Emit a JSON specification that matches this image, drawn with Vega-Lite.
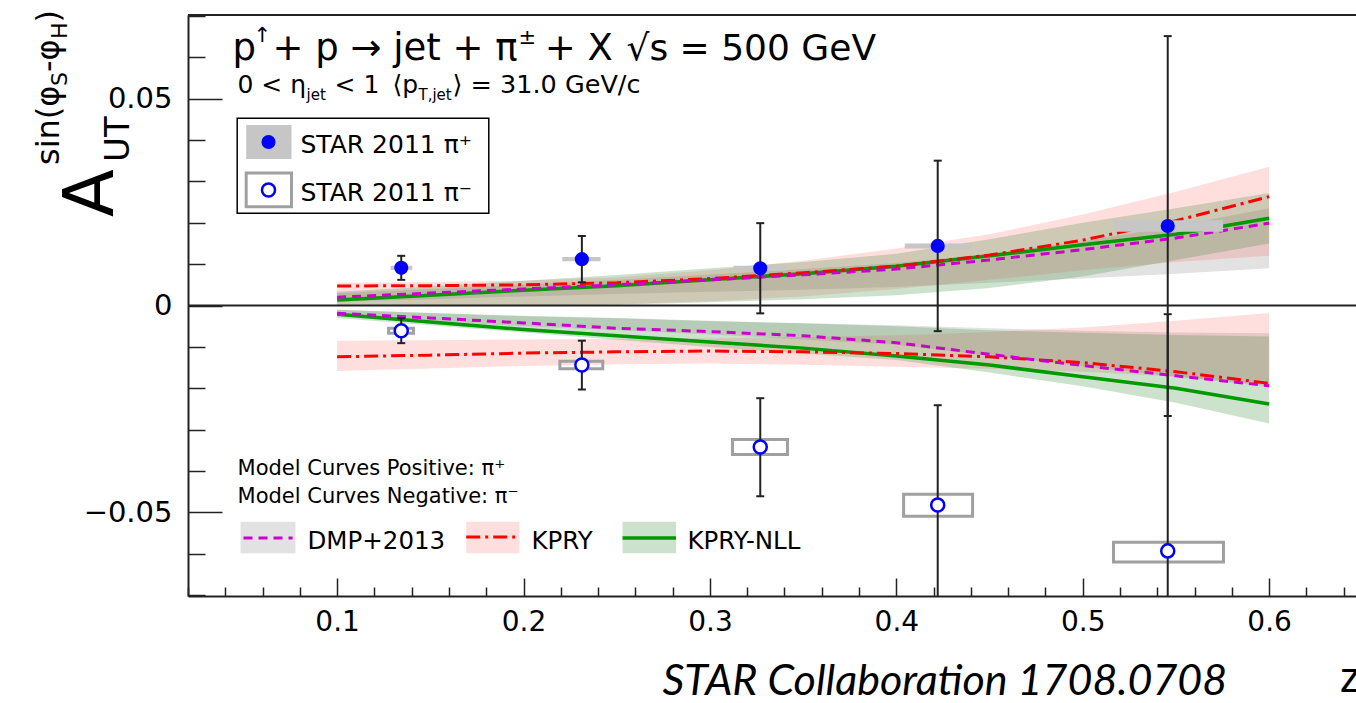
{
"$schema": "https://vega.github.io/schema/vega-lite/v6.json",
"width": 1168, "height": 581,
"autosize": {"type": "none"},
"padding": {"left": 188, "top": 15, "right": 0, "bottom": 107},
"background": "white",
"config": {"view": {"stroke": null}, "font": "DejaVu Sans"},
"data": {"values": [{}]},
"datasets": {
"curves": [
{"m":"DMP","b":"p","x":0.10,"y":0.0020,"lo":0.0009,"hi":0.0030},
{"m":"DMP","b":"p","x":0.15,"y":0.0030,"lo":0.0015,"hi":0.0040},
{"m":"DMP","b":"p","x":0.20,"y":0.0040,"lo":0.0022,"hi":0.0050},
{"m":"DMP","b":"p","x":0.25,"y":0.0050,"lo":0.0028,"hi":0.0062},
{"m":"DMP","b":"p","x":0.30,"y":0.0062,"lo":0.0033,"hi":0.0075},
{"m":"DMP","b":"p","x":0.35,"y":0.0074,"lo":0.0038,"hi":0.0088},
{"m":"DMP","b":"p","x":0.40,"y":0.0088,"lo":0.0045,"hi":0.0103},
{"m":"DMP","b":"p","x":0.45,"y":0.0110,"lo":0.0055,"hi":0.0125},
{"m":"DMP","b":"p","x":0.50,"y":0.0135,"lo":0.0065,"hi":0.0155},
{"m":"DMP","b":"p","x":0.55,"y":0.0163,"lo":0.0077,"hi":0.0192},
{"m":"DMP","b":"p","x":0.60,"y":0.0199,"lo":0.0090,"hi":0.0235},
{"m":"DMP","b":"n","x":0.10,"y":-0.0019,"lo":-0.0023,"hi":-0.0010},
{"m":"DMP","b":"n","x":0.15,"y":-0.0030,"lo":-0.0037,"hi":-0.0018},
{"m":"DMP","b":"n","x":0.20,"y":-0.0042,"lo":-0.0050,"hi":-0.0026},
{"m":"DMP","b":"n","x":0.25,"y":-0.0055,"lo":-0.0059,"hi":-0.0031},
{"m":"DMP","b":"n","x":0.30,"y":-0.0063,"lo":-0.0070,"hi":-0.0038},
{"m":"DMP","b":"n","x":0.35,"y":-0.0073,"lo":-0.0082,"hi":-0.0043},
{"m":"DMP","b":"n","x":0.40,"y":-0.0090,"lo":-0.0095,"hi":-0.0048},
{"m":"DMP","b":"n","x":0.45,"y":-0.0118,"lo":-0.0120,"hi":-0.0055},
{"m":"DMP","b":"n","x":0.50,"y":-0.0145,"lo":-0.0147,"hi":-0.0061},
{"m":"DMP","b":"n","x":0.55,"y":-0.0170,"lo":-0.0172,"hi":-0.0065},
{"m":"DMP","b":"n","x":0.60,"y":-0.0194,"lo":-0.0196,"hi":-0.0067},
{"m":"KPRY","b":"p","x":0.10,"y":0.0047,"lo":0.0000,"hi":0.0055},
{"m":"KPRY","b":"p","x":0.15,"y":0.0048,"lo":0.0000,"hi":0.0057},
{"m":"KPRY","b":"p","x":0.20,"y":0.0050,"lo":0.0000,"hi":0.0060},
{"m":"KPRY","b":"p","x":0.25,"y":0.0055,"lo":0.0003,"hi":0.0068},
{"m":"KPRY","b":"p","x":0.30,"y":0.0065,"lo":0.0010,"hi":0.0085},
{"m":"KPRY","b":"p","x":0.35,"y":0.0079,"lo":0.0022,"hi":0.0108},
{"m":"KPRY","b":"p","x":0.40,"y":0.0095,"lo":0.0040,"hi":0.0138},
{"m":"KPRY","b":"p","x":0.45,"y":0.0122,"lo":0.0062,"hi":0.0172},
{"m":"KPRY","b":"p","x":0.50,"y":0.0158,"lo":0.0085,"hi":0.0220},
{"m":"KPRY","b":"p","x":0.55,"y":0.0205,"lo":0.0105,"hi":0.0275},
{"m":"KPRY","b":"p","x":0.60,"y":0.0263,"lo":0.0120,"hi":0.0335},
{"m":"KPRY","b":"n","x":0.10,"y":-0.0124,"lo":-0.0158,"hi":-0.0085},
{"m":"KPRY","b":"n","x":0.15,"y":-0.0120,"lo":-0.0152,"hi":-0.0084},
{"m":"KPRY","b":"n","x":0.20,"y":-0.0115,"lo":-0.0146,"hi":-0.0082},
{"m":"KPRY","b":"n","x":0.25,"y":-0.0112,"lo":-0.0142,"hi":-0.0081},
{"m":"KPRY","b":"n","x":0.30,"y":-0.0110,"lo":-0.0140,"hi":-0.0079},
{"m":"KPRY","b":"n","x":0.35,"y":-0.0112,"lo":-0.0143,"hi":-0.0076},
{"m":"KPRY","b":"n","x":0.40,"y":-0.0116,"lo":-0.0148,"hi":-0.0072},
{"m":"KPRY","b":"n","x":0.45,"y":-0.0124,"lo":-0.0153,"hi":-0.0064},
{"m":"KPRY","b":"n","x":0.50,"y":-0.0138,"lo":-0.0160,"hi":-0.0053},
{"m":"KPRY","b":"n","x":0.55,"y":-0.0160,"lo":-0.0172,"hi":-0.0037},
{"m":"KPRY","b":"n","x":0.60,"y":-0.0188,"lo":-0.0192,"hi":-0.0018},
{"m":"NLL","b":"p","x":0.10,"y":0.0013,"lo":0.0000,"hi":0.0033},
{"m":"NLL","b":"p","x":0.15,"y":0.0025,"lo":0.0000,"hi":0.0046},
{"m":"NLL","b":"p","x":0.20,"y":0.0037,"lo":0.0000,"hi":0.0060},
{"m":"NLL","b":"p","x":0.25,"y":0.0048,"lo":0.0002,"hi":0.0074},
{"m":"NLL","b":"p","x":0.30,"y":0.0062,"lo":0.0008,"hi":0.0090},
{"m":"NLL","b":"p","x":0.35,"y":0.0077,"lo":0.0015,"hi":0.0105},
{"m":"NLL","b":"p","x":0.40,"y":0.0095,"lo":0.0025,"hi":0.0125},
{"m":"NLL","b":"p","x":0.45,"y":0.0120,"lo":0.0042,"hi":0.0160},
{"m":"NLL","b":"p","x":0.50,"y":0.0147,"lo":0.0070,"hi":0.0200},
{"m":"NLL","b":"p","x":0.55,"y":0.0172,"lo":0.0110,"hi":0.0235},
{"m":"NLL","b":"p","x":0.60,"y":0.0211,"lo":0.0150,"hi":0.0272},
{"m":"NLL","b":"n","x":0.10,"y":-0.0021,"lo":-0.0030,"hi":-0.0010},
{"m":"NLL","b":"n","x":0.15,"y":-0.0040,"lo":-0.0048,"hi":-0.0018},
{"m":"NLL","b":"n","x":0.20,"y":-0.0058,"lo":-0.0065,"hi":-0.0025},
{"m":"NLL","b":"n","x":0.25,"y":-0.0073,"lo":-0.0083,"hi":-0.0030},
{"m":"NLL","b":"n","x":0.30,"y":-0.0088,"lo":-0.0100,"hi":-0.0037},
{"m":"NLL","b":"n","x":0.35,"y":-0.0103,"lo":-0.0116,"hi":-0.0043},
{"m":"NLL","b":"n","x":0.40,"y":-0.0122,"lo":-0.0132,"hi":-0.0050},
{"m":"NLL","b":"n","x":0.45,"y":-0.0144,"lo":-0.0162,"hi":-0.0060},
{"m":"NLL","b":"n","x":0.50,"y":-0.0172,"lo":-0.0195,"hi":-0.0066},
{"m":"NLL","b":"n","x":0.55,"y":-0.0200,"lo":-0.0235,"hi":-0.0071},
{"m":"NLL","b":"n","x":0.60,"y":-0.0238,"lo":-0.0285,"hi":-0.0075}
],
"pts": [
{"c":"p","x":0.1344,"y":0.0091,"lo":0.0062,"hi":0.0120,"xl":0.1287,"xh":0.1403,"sl":0.0086,"sh":0.0096},
{"c":"p","x":0.2313,"y":0.0112,"lo":0.0056,"hi":0.0168,"xl":0.2208,"xh":0.2413,"sl":0.0107,"sh":0.0117},
{"c":"p","x":0.3270,"y":0.0090,"lo":-0.0019,"hi":0.0199,"xl":0.3127,"xh":0.3407,"sl":0.0084,"sh":0.0096},
{"c":"p","x":0.4222,"y":0.0144,"lo":-0.0062,"hi":0.0350,"xl":0.4045,"xh":0.4405,"sl":0.0138,"sh":0.0150},
{"c":"p","x":0.5456,"y":0.0192,"lo":-0.0267,"hi":0.0651,"xl":0.5171,"xh":0.5753,"sl":0.0178,"sh":0.0206},
{"c":"m","x":0.1344,"y":-0.0061,"lo":-0.0091,"hi":-0.0031,"xl":0.1276,"xh":0.1410,"sl":-0.0067,"sh":-0.0055},
{"c":"m","x":0.2313,"y":-0.0144,"lo":-0.0203,"hi":-0.0085,"xl":0.2195,"xh":0.2425,"sl":-0.0153,"sh":-0.0135},
{"c":"m","x":0.3270,"y":-0.0342,"lo":-0.0461,"hi":-0.0224,"xl":0.3121,"xh":0.3416,"sl":-0.0360,"sh":-0.0324},
{"c":"m","x":0.4222,"y":-0.0482,"lo":-0.0724,"hi":-0.0241,"xl":0.4039,"xh":0.4409,"sl":-0.0509,"sh":-0.0456},
{"c":"m","x":0.5456,"y":-0.0593,"lo":-0.1165,"hi":-0.0021,"xl":0.5165,"xh":0.5755,"sl":-0.0620,"sh":-0.0572}
]
},
"resolve": {"axis": {"x": "independent", "y": "independent"}},
"layer": [
{"layer": [
{"data": {"name": "curves"}, "transform": [{"filter": "datum.m == 'DMP'"}],
 "mark": {"type": "area", "fill": "#e2e2e2"},
 "encoding": {
  "x": {"field": "x", "type": "quantitative", "scale": {"domain": [0.02, 0.6466], "nice": false, "zero": false},
   "axis": {"title": null, "orient": "bottom", "grid": false, "values": [0.1,0.2,0.3,0.4,0.5,0.6], "format": ".1f",
    "domainColor": "#222", "domainWidth": 2, "tickColor": "#222", "tickWidth": 1.5, "tickSize": -18,
    "labelFont": "DejaVu Sans", "labelFontSize": 28, "labelColor": "#000", "labelPadding": 30, "labelFlush": false, "labelOverlap": false}},
  "y": {"field": "lo", "type": "quantitative", "scale": {"domain": [-0.0702, 0.0702], "nice": false, "zero": false},
   "axis": {"title": null, "orient": "left", "grid": false, "values": [-0.05, 0, 0.05],
    "domainColor": "#222", "domainWidth": 2, "tickColor": "#222", "tickWidth": 1.5, "tickSize": -34,
    "labelExpr": "abs(datum.value)<1e-9 ? '0' : replace(format(datum.value,'.2f'),'-','\u2212')",
    "labelFont": "DejaVu Sans", "labelFontSize": 29, "labelColor": "#000", "labelPadding": 50, "labelFlush": false, "labelOverlap": false}},
  "y2": {"field": "hi"},
  "detail": {"field": "b"}
 }},
{"data": {"name": "curves"}, "transform": [{"filter": "datum.m == 'KPRY'"}],
 "mark": {"type": "area", "fill": "#ff5a5a", "opacity": 0.2},
 "encoding": {"x": {"field": "x", "type": "quantitative"}, "y": {"field": "lo", "type": "quantitative"}, "y2": {"field": "hi"}, "detail": {"field": "b"}}},
{"data": {"name": "curves"}, "transform": [{"filter": "datum.m == 'NLL'"}],
 "mark": {"type": "area", "fill": "#3f8f3f", "opacity": 0.26},
 "encoding": {"x": {"field": "x", "type": "quantitative"}, "y": {"field": "lo", "type": "quantitative"}, "y2": {"field": "hi"}, "detail": {"field": "b"}}},
{"mark": {"type": "rule", "stroke": "#222", "strokeWidth": 2},
 "encoding": {"x": {"datum": 0.02, "type": "quantitative"}, "x2": {"datum": 0.6466}, "y": {"datum": 0, "type": "quantitative"}}},
{"mark": {"type": "rule", "stroke": "#222", "strokeWidth": 2},
 "encoding": {"x": {"datum": 0.02, "type": "quantitative"}, "x2": {"datum": 0.6466}, "y": {"datum": 0.0702, "type": "quantitative"}}},
{"data": {"name": "curves"}, "transform": [{"filter": "datum.m == 'NLL'"}],
 "mark": {"type": "line", "stroke": "#009a00", "strokeWidth": 3.5},
 "encoding": {"x": {"field": "x", "type": "quantitative"}, "y": {"field": "y", "type": "quantitative"}, "detail": {"field": "b"}}},
{"data": {"name": "curves"}, "transform": [{"filter": "datum.m == 'KPRY'"}],
 "mark": {"type": "line", "stroke": "#ff0000", "strokeWidth": 3, "strokeDash": [14, 5, 3, 5]},
 "encoding": {"x": {"field": "x", "type": "quantitative"}, "y": {"field": "y", "type": "quantitative"}, "detail": {"field": "b"}}},
{"data": {"name": "curves"}, "transform": [{"filter": "datum.m == 'DMP'"}],
 "mark": {"type": "line", "stroke": "#cc00cc", "strokeWidth": 3, "strokeDash": [9, 6]},
 "encoding": {"x": {"field": "x", "type": "quantitative"}, "y": {"field": "y", "type": "quantitative"}, "detail": {"field": "b"}}},
{"data": {"name": "pts"}, "transform": [{"filter": "datum.c == 'p'"}],
 "mark": {"type": "rect", "fill": "#c6c6c6"},
 "encoding": {"x": {"field": "xl", "type": "quantitative"}, "x2": {"field": "xh"}, "y": {"field": "sl", "type": "quantitative"}, "y2": {"field": "sh"}}},
{"data": {"name": "pts"}, "transform": [{"filter": "datum.c == 'm'"}],
 "mark": {"type": "rect", "filled": false, "stroke": "#a0a0a0", "strokeWidth": 3},
 "encoding": {"x": {"field": "xl", "type": "quantitative"}, "x2": {"field": "xh"}, "y": {"field": "sl", "type": "quantitative"}, "y2": {"field": "sh"}}},
{"data": {"name": "pts"},
 "mark": {"type": "rule", "stroke": "#222", "strokeWidth": 2, "clip": true},
 "encoding": {"x": {"field": "x", "type": "quantitative"}, "y": {"field": "lo", "type": "quantitative"}, "y2": {"field": "hi"}}},
{"data": {"name": "pts"},
 "mark": {"type": "point", "shape": "M-1,0L1,0", "size": 64, "filled": false, "stroke": "#222", "strokeWidth": 2, "opacity": 1, "clip": true},
 "encoding": {"x": {"field": "x", "type": "quantitative"}, "y": {"field": "lo", "type": "quantitative"}}},
{"data": {"name": "pts"},
 "mark": {"type": "point", "shape": "M-1,0L1,0", "size": 64, "filled": false, "stroke": "#222", "strokeWidth": 2, "opacity": 1, "clip": true},
 "encoding": {"x": {"field": "x", "type": "quantitative"}, "y": {"field": "hi", "type": "quantitative"}}},
{"data": {"name": "pts"}, "transform": [{"filter": "datum.c == 'p'"}],
 "mark": {"type": "point", "shape": "circle", "size": 200, "filled": true, "fill": "#0000ff", "opacity": 1, "strokeWidth": 0},
 "encoding": {"x": {"field": "x", "type": "quantitative"}, "y": {"field": "y", "type": "quantitative"}}},
{"data": {"name": "pts"}, "transform": [{"filter": "datum.c == 'm'"}],
 "mark": {"type": "point", "shape": "circle", "size": 170, "filled": true, "fill": "#ffffff", "stroke": "#0000ff", "strokeWidth": 2.5, "opacity": 1},
 "encoding": {"x": {"field": "x", "type": "quantitative"}, "y": {"field": "y", "type": "quantitative"}}},

{"mark": {"type": "rect", "fill": "#ffffff", "stroke": "#000", "strokeWidth": 1.5},
 "encoding": {"x": {"datum": 0.04639, "type": "quantitative"}, "x2": {"datum": 0.18137}, "y": {"datum": 0.02228, "type": "quantitative"}, "y2": {"datum": 0.04524}}},
{"mark": {"type": "rect", "fill": "#c6c6c6"},
 "encoding": {"x": {"datum": 0.05122, "type": "quantitative"}, "x2": {"datum": 0.07553}, "y": {"datum": 0.0354, "type": "quantitative"}, "y2": {"datum": 0.04362}}},
{"mark": {"type": "point", "shape": "circle", "size": 200, "filled": true, "fill": "#0000ff", "opacity": 1, "strokeWidth": 0},
 "encoding": {"x": {"datum": 0.06319, "type": "quantitative"}, "y": {"datum": 0.03951, "type": "quantitative"}}},
{"mark": {"type": "text", "text": "STAR 2011 π⁺", "font": "DejaVu Sans", "fontSize": 25, "align": "left", "baseline": "alphabetic", "color": "#000"},
 "encoding": {"x": {"datum": 0.08035, "type": "quantitative"}, "y": {"datum": 0.03685, "type": "quantitative"}}},
{"mark": {"type": "rect", "filled": false, "stroke": "#a0a0a0", "strokeWidth": 3},
 "encoding": {"x": {"datum": 0.05122, "type": "quantitative"}, "x2": {"datum": 0.07553}, "y": {"datum": 0.02388, "type": "quantitative"}, "y2": {"datum": 0.03202}}},
{"mark": {"type": "point", "shape": "circle", "size": 170, "filled": true, "fill": "#ffffff", "stroke": "#0000ff", "strokeWidth": 2.5, "opacity": 1},
 "encoding": {"x": {"datum": 0.06319, "type": "quantitative"}, "y": {"datum": 0.02791, "type": "quantitative"}}},
{"mark": {"type": "text", "text": "STAR 2011 π⁻", "font": "DejaVu Sans", "fontSize": 25, "align": "left", "baseline": "alphabetic", "color": "#000"},
 "encoding": {"x": {"datum": 0.08035, "type": "quantitative"}, "y": {"datum": 0.02525, "type": "quantitative"}}},

{"mark": {"type": "text", "text": "Model Curves Positive: π⁺", "font": "DejaVu Sans", "fontSize": 21, "align": "left", "baseline": "alphabetic", "color": "#000"},
 "encoding": {"x": {"datum": 0.04656, "type": "quantitative"}, "y": {"datum": -0.04096, "type": "quantitative"}}},
{"mark": {"type": "text", "text": "Model Curves Negative: π⁻", "font": "DejaVu Sans", "fontSize": 21, "align": "left", "baseline": "alphabetic", "color": "#000"},
 "encoding": {"x": {"datum": 0.04656, "type": "quantitative"}, "y": {"datum": -0.04773, "type": "quantitative"}}},
{"mark": {"type": "rect", "fill": "#e2e2e2"},
 "encoding": {"x": {"datum": 0.04817, "type": "quantitative"}, "x2": {"datum": 0.07767}, "y": {"datum": -0.05988, "type": "quantitative"}, "y2": {"datum": -0.05225}}},
{"mark": {"type": "rule", "stroke": "#cc00cc", "strokeWidth": 3, "strokeDash": [9, 6]},
 "encoding": {"x": {"datum": 0.04978, "type": "quantitative"}, "x2": {"datum": 0.07608}, "y": {"datum": -0.05619, "type": "quantitative"}}},
{"mark": {"type": "text", "text": "DMP+2013", "font": "DejaVu Sans", "fontSize": 24.5, "align": "left", "baseline": "alphabetic", "color": "#000"},
 "encoding": {"x": {"datum": 0.08411, "type": "quantitative"}, "y": {"datum": -0.05885, "type": "quantitative"}}},
{"mark": {"type": "rect", "fill": "#ff5a5a", "opacity": 0.2},
 "encoding": {"x": {"datum": 0.16925, "type": "quantitative"}, "x2": {"datum": 0.19785}, "y": {"datum": -0.05988, "type": "quantitative"}, "y2": {"datum": -0.05225}}},
{"mark": {"type": "rule", "stroke": "#ff0000", "strokeWidth": 3, "strokeDash": [14, 5, 3, 5]},
 "encoding": {"x": {"datum": 0.16925, "type": "quantitative"}, "x2": {"datum": 0.19785}, "y": {"datum": -0.05595, "type": "quantitative"}}},
{"mark": {"type": "text", "text": "KPRY", "font": "DejaVu Sans", "fontSize": 24.5, "align": "left", "baseline": "alphabetic", "color": "#000"},
 "encoding": {"x": {"datum": 0.20428, "type": "quantitative"}, "y": {"datum": -0.05885, "type": "quantitative"}}},
{"mark": {"type": "rect", "fill": "#3f8f3f", "opacity": 0.26},
 "encoding": {"x": {"datum": 0.25311, "type": "quantitative"}, "x2": {"datum": 0.28181}, "y": {"datum": -0.05988, "type": "quantitative"}, "y2": {"datum": -0.05225}}},
{"mark": {"type": "rule", "stroke": "#009a00", "strokeWidth": 3.5},
 "encoding": {"x": {"datum": 0.25311, "type": "quantitative"}, "x2": {"datum": 0.28181}, "y": {"datum": -0.05619, "type": "quantitative"}}},
{"mark": {"type": "text", "text": "KPRY-NLL", "font": "DejaVu Sans", "fontSize": 24.5, "align": "left", "baseline": "alphabetic", "color": "#000"},
 "encoding": {"x": {"datum": 0.28798, "type": "quantitative"}, "y": {"datum": -0.05885, "type": "quantitative"}}},

{"mark": {"type": "text", "text": "p", "font": "DejaVu Sans", "fontSize": 37, "align": "left", "baseline": "alphabetic", "color": "#000"},
 "encoding": {"x": {"datum": 0.04387, "type": "quantitative"}, "y": {"datum": 0.05933, "type": "quantitative"}}},
{"mark": {"type": "text", "text": "↑", "font": "DejaVu Sans", "fontSize": 21, "align": "left", "baseline": "alphabetic", "color": "#000"},
 "encoding": {"x": {"datum": 0.05515, "type": "quantitative"}, "y": {"datum": 0.06368, "type": "quantitative"}}},
{"mark": {"type": "text", "text": "+ p → jet + π", "font": "DejaVu Sans", "fontSize": 37, "align": "left", "baseline": "alphabetic", "color": "#000"},
 "encoding": {"x": {"datum": 0.06534, "type": "quantitative"}, "y": {"datum": 0.05933, "type": "quantitative"}}},
{"mark": {"type": "text", "text": "±", "font": "DejaVu Sans", "fontSize": 21, "align": "left", "baseline": "alphabetic", "color": "#000"},
 "encoding": {"x": {"datum": 0.19731, "type": "quantitative"}, "y": {"datum": 0.0632, "type": "quantitative"}}},
{"mark": {"type": "text", "text": "+ X", "font": "DejaVu Sans", "fontSize": 37, "align": "left", "baseline": "alphabetic", "color": "#000"},
 "encoding": {"x": {"datum": 0.21137, "type": "quantitative"}, "y": {"datum": 0.05933, "type": "quantitative"}}},
{"mark": {"type": "text", "text": "√s = 500 GeV", "font": "DejaVu Sans", "fontSize": 36, "align": "left", "baseline": "alphabetic", "color": "#000"},
 "encoding": {"x": {"datum": 0.25522, "type": "quantitative"}, "y": {"datum": 0.05933, "type": "quantitative"}}},

{"mark": {"type": "text", "text": "0 < η", "font": "DejaVu Sans", "fontSize": 25, "align": "left", "baseline": "alphabetic", "color": "#000"},
 "encoding": {"x": {"datum": 0.04656, "type": "quantitative"}, "y": {"datum": 0.05135, "type": "quantitative"}}},
{"mark": {"type": "text", "text": "jet", "font": "DejaVu Sans", "fontSize": 15, "align": "left", "baseline": "alphabetic", "color": "#000"},
 "encoding": {"x": {"datum": 0.08357, "type": "quantitative"}, "y": {"datum": 0.04966, "type": "quantitative"}}},
{"mark": {"type": "text", "text": "< 1", "font": "DejaVu Sans", "fontSize": 25, "align": "left", "baseline": "alphabetic", "color": "#000"},
 "encoding": {"x": {"datum": 0.09859, "type": "quantitative"}, "y": {"datum": 0.05135, "type": "quantitative"}}},
{"mark": {"type": "text", "text": "⟨p", "font": "DejaVu Sans", "fontSize": 25, "align": "left", "baseline": "alphabetic", "color": "#000"},
 "encoding": {"x": {"datum": 0.12971, "type": "quantitative"}, "y": {"datum": 0.05135, "type": "quantitative"}}},
{"mark": {"type": "text", "text": "T,jet", "font": "DejaVu Sans", "fontSize": 15, "align": "left", "baseline": "alphabetic", "color": "#000"},
 "encoding": {"x": {"datum": 0.14366, "type": "quantitative"}, "y": {"datum": 0.04966, "type": "quantitative"}}},
{"mark": {"type": "text", "text": "⟩ = 31.0 GeV/c", "font": "DejaVu Sans", "fontSize": 25.5, "align": "left", "baseline": "alphabetic", "color": "#000"},
 "encoding": {"x": {"datum": 0.16191, "type": "quantitative"}, "y": {"datum": 0.05135, "type": "quantitative"}}},

{"mark": {"type": "text", "text": "A", "font": "DejaVu Sans", "fontSize": 70, "angle": 270, "align": "center", "baseline": "alphabetic", "color": "#000"},
 "encoding": {"x": {"datum": -0.0205, "type": "quantitative"}, "y": {"datum": 0.02719, "type": "quantitative"}}},
{"mark": {"type": "text", "text": "UT", "font": "DejaVu Sans", "fontSize": 34, "angle": 270, "align": "left", "baseline": "alphabetic", "color": "#000"},
 "encoding": {"x": {"datum": -0.01192, "type": "quantitative"}, "y": {"datum": 0.03468, "type": "quantitative"}}},
{"mark": {"type": "text", "text": "sin(φ", "font": "DejaVu Sans", "fontSize": 32, "angle": 270, "align": "left", "baseline": "alphabetic", "color": "#000"},
 "encoding": {"x": {"datum": -0.04947, "type": "quantitative"}, "y": {"datum": 0.03395, "type": "quantitative"}}},
{"mark": {"type": "text", "text": "S", "font": "DejaVu Sans", "fontSize": 22, "angle": 270, "align": "left", "baseline": "alphabetic", "color": "#000"},
 "encoding": {"x": {"datum": -0.04518, "type": "quantitative"}, "y": {"datum": 0.05304, "type": "quantitative"}}},
{"mark": {"type": "text", "text": "-φ", "font": "DejaVu Sans", "fontSize": 32, "angle": 270, "align": "left", "baseline": "alphabetic", "color": "#000"},
 "encoding": {"x": {"datum": -0.04947, "type": "quantitative"}, "y": {"datum": 0.05642, "type": "quantitative"}}},
{"mark": {"type": "text", "text": "H", "font": "DejaVu Sans", "fontSize": 22, "angle": 270, "align": "left", "baseline": "alphabetic", "color": "#000"},
 "encoding": {"x": {"datum": -0.04518, "type": "quantitative"}, "y": {"datum": 0.0644, "type": "quantitative"}}},
{"mark": {"type": "text", "text": ")", "font": "DejaVu Sans", "fontSize": 32, "angle": 270, "align": "left", "baseline": "alphabetic", "color": "#000"},
 "encoding": {"x": {"datum": -0.04947, "type": "quantitative"}, "y": {"datum": 0.06839, "type": "quantitative"}}},

{"mark": {"type": "text", "text": "STAR Collaboration 1708.0708", "font": "Lato", "fontStyle": "italic", "fontSize": 43, "align": "left", "baseline": "alphabetic", "color": "#000"},
 "encoding": {"x": {"datum": 0.27456, "type": "quantitative"}, "y": {"datum": -0.09413, "type": "quantitative"}}},
{"mark": {"type": "text", "text": "z", "font": "Liberation Sans", "fontSize": 42, "align": "left", "baseline": "alphabetic", "color": "#000"},
 "encoding": {"x": {"datum": 0.63782, "type": "quantitative"}, "y": {"datum": -0.0934, "type": "quantitative"}}}
]},
{"data": {"name": "curves"},
 "mark": {"type": "point", "opacity": 0},
 "encoding": {
  "x": {"field": "x", "type": "quantitative", "scale": {"domain": [0.02, 0.6466], "nice": false, "zero": false},
   "axis": {"title": null, "orient": "bottom", "grid": false, "domain": false, "labels": false,
    "values": [0.02,0.04,0.06,0.08,0.12,0.14,0.16,0.18,0.22,0.24,0.26,0.28,0.32,0.34,0.36,0.38,0.42,0.44,0.46,0.48,0.52,0.54,0.56,0.58,0.62,0.64],
    "tickColor": "#222", "tickWidth": 1.5, "tickSize": -9}},
  "y": {"field": "y", "type": "quantitative", "scale": {"domain": [-0.0702, 0.0702], "nice": false, "zero": false},
   "axis": {"title": null, "orient": "left", "grid": false, "domain": false, "labels": false,
    "values": [-0.07,-0.06,-0.04,-0.03,-0.02,-0.01,0.01,0.02,0.03,0.04,0.06,0.07],
    "tickColor": "#222", "tickWidth": 1.5, "tickSize": -17}}
 }}
]
}
